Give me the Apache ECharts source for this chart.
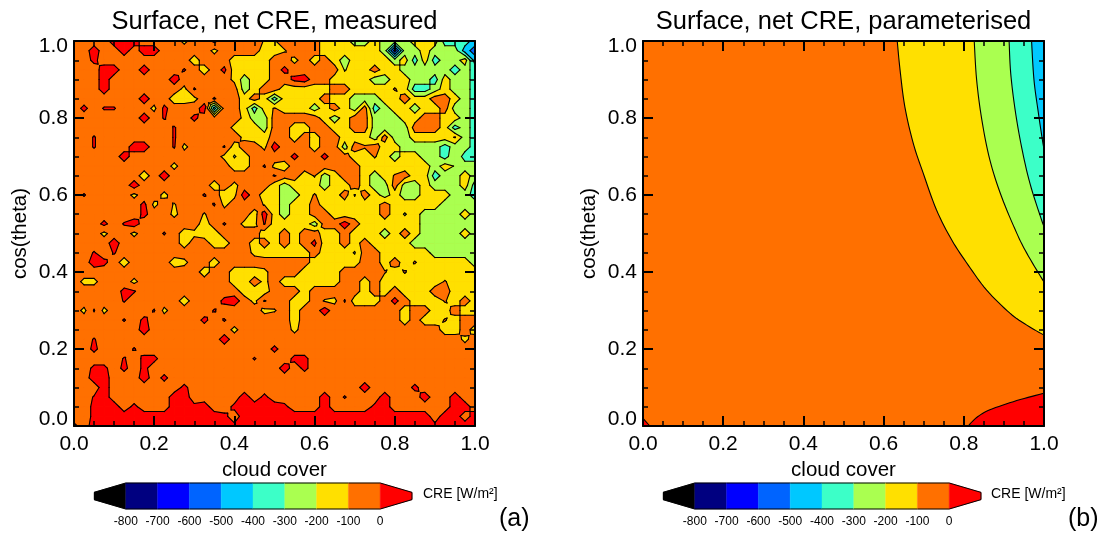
<!DOCTYPE html>
<html><head><meta charset="utf-8">
<style>html,body{margin:0;padding:0;background:#fff}#c{width:1100px;height:534px}</style>
<script src="https://cdn.jsdelivr.net/npm/echarts@6/dist/echarts.min.js"></script>
</head><body><div id="c"></div>
<script>
// Measured panel: CRE at 41x41 nodes, one letter per node (top row = cos 1.0)
const measuredCodes = {o:-50,r:50,S:25,s:8,y:-150,U:-125,u:-108,a:-92,g:-250,h:-208,t:-350,c:-450,b:-550,n:-650,k:-750};
const measuredRows = [
"oooorrrooooUooSoooou"+"uooooyyyggygggyyytttc",
"ooroororro"+"ooooUooooy"+"yuoooyyyyyygnggygggcb",
"ooSooooooooo"+"y"+"ooo"+"yyyy"+"ooUoyoygyyyygytytggyc",
"ooorroorooosoyoSyyyy"+"oSooooohyyoyygggggtgt",
"ooorooooooroooooUgyy"+"ooSrooyyyyggyyggtyggt",
"oooroooooooUsoooogyo"+"oyyyyyooyyyyayttgyggt",
"ooooooo"+"r"+"oo"+"yy"+"U"+"o"+"s"+"oo"+"y"+"o"+"y"+"tyyyyoyygggyyoyyooygt",
"oSossoooUSooorcooyty"+"ayyygyoygotgyygyyoggt",
"ooooooor"+"o"+"s"+"oo"+"S"+"oooo"+"Ugg"+"oooooygyoogggyyooyygt",
"oooooooooo"+"s"+"ooooo"+"Uyyg"+"ooyyooyyooggggoooytgt",
"oos"+"ooooooo"+"s"+"oooooo"+"Uyy"+"ooyoyooyyygoggyyyyagt",
"oos"+"ooo"+"rr"+"oo"+"sU"+"ooo"+"sy"+"oo"+"U"+"roooyoogoaoyyggggtggt",
"ooooo"+"r"+"ooooooooo"+"Uhy"+"oo"+"ooSooSooyyaygyyggthtt",
"oooooooooo"+"U"+"ooooo"+"yy"+"os"+"Uyoooooooyyyyyyygyhgg",
"ooooooo"+"yor"+"oooooooooo"+"sooyagyooygyaoyytggyg",
"oooooo"+"r"+"ooooooo"+"yoU"+"ooo"+"ygyyygyyoyggoggygggyt",
"os"+"oooo"+"U"+"oo"+"U"+"ooo"+"s"+"o"+"y"+"U"+"r"+"o"+"y"+"yggyayyohoygyggyyyggt",
"ooooooo"+"SU"+"o"+"u"+"ooo"+"sU"+"ooo"+"u"+"ygyyoyyyyyyoyyyyygggg",
"ooooooo"+"S"+"oo"+"U"+"oo"+"u"+"oooo"+"yr"+"ygyyooyyyyyoyhyggggyg",
"ooo"+"S"+"o"+"sr"+"oooooo"+"y"+"o"+"s"+"o"+"UUs"+"yyyygooroyyyyyygggggg",
"ooo"+"U"+"oo"+"U"+"oo"+"s"+"o"+"yUyy"+"oooo"+"y"+"yoyooyyoyyygyoyggggyg",
"oooo"+"r"+"ooooo"+"o"+"y"+"oo"+"yy"+"oo"+"y"+"o"+"yoyoSyyoyoyyyyggggggg",
"oo"+"s"+"o"+"s"+"ooooooooooooo"+"Uy"+"yyyyoyyyhooyyyyyggggg",
"oo"+"rS"+"o"+"y"+"oooo"+"yU"+"oo"+"y"+"ooooo"+"ooooyyyyyooyoyayyyyyg",
"ooooooooooooo"+"y"+"oo"+"yyy"+"U"+"oooyyyyooooayayyyyyyy",
"o"+"UU"+"ooo"+"U"+"ooooooooo"+"yyoU"+"oyyyyyyooyoyyyyyyayyy",
"ooooo"+"Ss"+"oooooooooo"+"yyy"+"oooyoooooyoyoyyyooyyy",
"ooooo"+"s"+"ooooo"+"y"+"ooo"+"Sr"+"o"+"Us"+"ooyyouUsyyyoSoyyyayoy",
"oUsU"+"oooo"+"sU"+"oooo"+"s"+"oooo"+"U"+"uoyooroooooooyooyyoyy",
"ooooo"+"s"+"o"+"S"+"ooooo"+"S"+"o"+"s"+"oooo"+"ooy"+"oooooooooo"+"yoyyayoo",
"ooooooo"+"r"+"oooooooo"+"U"+"ooo"+"ooU"+"oooooooooooooo"+"yyoy",
"oos"+"oooooooooooo"+"r"+"oooo"+"ooooooooooooooooooo"+"Uo",
"ooS"+"ooo"+"s"+"ooooooooooooo"+"S"+"oooooooooooooooooooo",
"ooooo"+"s"+"o"+"SS"+"ooooooooo"+"so"+"ooSS"+"ooooooooooooooooo",
"oo"+"SS"+"o"+"S"+"o"+"S"+"oooooooooooo"+"oroS"+"ooooooooooooooooo",
"oo"+"rr"+"ooo"+"r"+"o"+"S"+"oooooooooo"+"ooooooooooooooooooooo",
"ooo"+"r"+"ooooooo"+"S"+"oooooooo"+"ooooooooo"+"r"+"oooo"+"S"+"oooooo",
"oo"+"sr"+"oooooo"+"rr"+"ooooo"+"roS"+"ooooo"+"rosooo"+"r"+"ooo"+"r"+"oo"+"r"+"oo",
"oo"+"Srr"+"o"+"S"+"ooo"+"rr"+"Sr"+"oo"+"S"+"rrr"+"rSooorooooSroooooorro",
"oo"+"Srrrrrrrrrrrr"+"So"+"rrr"+"rrrrrrrrrrrrrrrr"+"orr"+"or",
"So"+"rrrrrrrrrrrrrr"+"S"+"rrr"+"rrrrrrrrrrrrrrrr"+"Srr"+"rr"
];
// Parameterised panel: contour lines as [cloud cover, cos(theta)]
const isoMinus100 = [[.634,1],[.641,.925],[.653,.829],[.674,.734],[.699,.656],[.732,.561],[.770,.483],[.811,.418],[.857,.353],[.915,.293],[.957,.262],[1,.236]];
const isoMinus200 = [[.826,1],[.832,.899],[.845,.795],[.865,.691],[.894,.596],[.932,.501],[.957,.449],[.994,.384],[1,.375]];
const isoMinus300 = [[.913,1],[.917,.916],[.928,.821],[.944,.725],[.965,.630],[.994,.535],[1,.52]];
const isoMinus400 = [[.969,1],[.975,.899],[.986,.813],[.996,.743],[1,.72]];
const isoZeroRight = [[.811,0],[.832,.022],[.865,.042],[.932,.066],[1,.085]];
const isoZeroLeft = [[0,.02],[.017,0]];
const tickLabelsColorbar = [-800,-700,-600,-500,-400,-300,-200,-100,0];
const bandEdges = [-900,-800,-700,-600,-500,-400,-300,-200,-100,0,100];
const bandColors = ['#000000','#000080','#0000FF','#0064FF','#00C8FF','#3CFFC8','#AAFF50','#FFE000','#FF7000','#FF0000'];

const FONT='"Liberation Sans", Arial, Helvetica, sans-serif';
const N=measuredRows.length-1;
measuredRows.forEach((r,i)=>{if(r.length!==41)throw new Error('row '+i+' length '+r.length);});
const vals=measuredRows.map(r=>r.split('').map(ch=>measuredCodes[ch]));
const cells=[];for(let j=0;j<N;j++)for(let i=0;i<N;i++)cells.push([i/N,1-j/N,i,j]);
const THRESHOLDS=[-800,-700,-600,-500,-400,-300,-200,-100,0];

function clip(poly,t,above){
  const out=[];
  for(let k=0;k<poly.length;k++){
    const a=poly[k],b=poly[(k+1)%poly.length];
    const ia=above?a[2]>=t:a[2]<=t, ib=above?b[2]>=t:b[2]<=t;
    if(ia)out.push(a);
    if(ia!==ib){const f=(t-a[2])/(b[2]-a[2]);out.push([a[0]+(b[0]-a[0])*f,a[1]+(b[1]-a[1])*f,t]);}
  }
  return out;
}
// one quad, or four triangles round the centre when a contour crosses the cell as a saddle
function pieces(i,j){
  const q=[[i/N,1-j/N,vals[j][i]],[(i+1)/N,1-j/N,vals[j][i+1]],[(i+1)/N,1-(j+1)/N,vals[j+1][i+1]],[i/N,1-(j+1)/N,vals[j+1][i]]];
  const saddle=THRESHOLDS.some(t=>{
    const s=q.map(p=>p[2]<t);return s[0]===s[2]&&s[1]===s[3]&&s[0]!==s[1];});
  if(!saddle)return [q];
  const c=[(q[0][0]+q[1][0])/2,(q[0][1]+q[3][1])/2,(q[0][2]+q[1][2]+q[2][2]+q[3][2])/4];
  return [0,1,2,3].map(k=>[q[k],q[(k+1)%4],c]);
}
function renderFill(params,api){
  const children=[];
  pieces(api.value(2),api.value(3)).forEach(q=>{
    const vs=q.map(p=>p[2]);const mn=Math.min(...vs),mx=Math.max(...vs);
    for(let b=0;b<bandColors.length;b++){
      const lo=b===0?-1e6:bandEdges[b], hi=b===bandColors.length-1?1e6:bandEdges[b+1];
      if(mx<lo||mn>hi)continue;
      const p=clip(clip(q,lo,true),hi,false);
      if(p.length<3)continue;
      children.push({type:'polygon',shape:{points:p.map(a=>api.coord([a[0],a[1]]))},
        style:{fill:bandColors[b],stroke:bandColors[b],lineWidth:.8}});
    }
  });
  return {type:'group',children};
}
function renderLines(params,api){
  const children=[];
  pieces(api.value(2),api.value(3)).forEach(q=>{
    THRESHOLDS.forEach(t=>{
      const pts=[];
      for(let k=0;k<q.length;k++){
        const a=q[k],b=q[(k+1)%q.length];
        if((a[2]<t)!==(b[2]<t)){const f=(t-a[2])/(b[2]-a[2]);pts.push([a[0]+(b[0]-a[0])*f,a[1]+(b[1]-a[1])*f]);}
      }
      if(pts.length===2)children.push({type:'polyline',shape:{points:pts.map(a=>api.coord(a))},
        style:{stroke:'#000',fill:null,lineWidth:1.1,lineCap:'round'}});
    });
  });
  return {type:'group',children};
}
// Catmull-Rom drawing of a read contour so that it renders as a smooth curve
function curve(line){
  if(line.length<3)return line;
  const out=[];
  for(let i=0;i<line.length-1;i++){
    const p0=line[Math.max(i-1,0)],p1=line[i],p2=line[i+1],p3=line[Math.min(i+2,line.length-1)];
    for(let s=0;s<8;s++){const t=s/8,t2=t*t,t3=t2*t;
      out.push([0,1].map(d=>.5*(2*p1[d]+(p2[d]-p0[d])*t+(2*p0[d]-5*p1[d]+4*p2[d]-p3[d])*t2+(3*p1[d]-p0[d]-3*p2[d]+p3[d])*t3)));}
  }
  out.push(line[line.length-1]);
  return out;
}
const fillOrder=[
  {line:[[0,0],[0,1],[1,1],[1,0]],color:bandColors[8],stroke:false,raw:true},
  {line:isoMinus100,close:[[1,1]],color:bandColors[7],stroke:true},
  {line:isoMinus200,close:[[1,1]],color:bandColors[6],stroke:true},
  {line:isoMinus300,close:[[1,1]],color:bandColors[5],stroke:true},
  {line:isoMinus400,close:[[1,1]],color:bandColors[4],stroke:true},
  {line:isoZeroRight,close:[[1,0]],color:bandColors[9],stroke:true},
  {line:isoZeroLeft,close:[[0,0]],color:bandColors[9],stroke:true}
];
function renderParam(params,api){
  const f=fillOrder[params.dataIndex];
  const line=f.raw?f.line:curve(f.line);
  const pts=line.concat(f.close||[]).map(a=>api.coord(a));
  const ch=[{type:'polygon',shape:{points:pts},style:{fill:f.color}}];
  if(f.stroke)ch.push({type:'polyline',shape:{points:line.map(a=>api.coord(a))},style:{stroke:'#000',fill:null,lineWidth:1.1}});
  return {type:'group',children:ch};
}
function renderBar(params,api){
  const b=params.dataIndex;
  const lo=bandEdges[b],hi=bandEdges[b+1];
  let pts;
  if(b===0)pts=[[lo,.64],[hi,1],[hi,0],[lo,.36]];
  else if(b===bandColors.length-1)pts=[[lo,1],[hi,.64],[hi,.36],[lo,0]];
  else pts=[[lo,1],[hi,1],[hi,0],[lo,0]];
  const px=pts.map(a=>api.coord(a));
  const ch=[{type:'polygon',shape:{points:px},style:{fill:bandColors[b],stroke:bandColors[b],lineWidth:.4}}];
  ch.push({type:'polyline',shape:{points:[px[0],px[1]]},style:{stroke:'#000',fill:null,lineWidth:1}});
  ch.push({type:'polyline',shape:{points:[px[2],px[3]]},style:{stroke:'#000',fill:null,lineWidth:1}});
  if(b===bandColors.length-1)ch.push({type:'polyline',shape:{points:[px[1],px[2]]},style:{stroke:'#000',fill:null,lineWidth:1}});
  return {type:'group',children:ch};
}
const PX=[74,643],PW=401,PT=41,PH=385,CB=[94,663],CBW=318,CBT=483,CBH=26;
const LBL=21;
const rich={low:{fontFamily:FONT,fontSize:LBL,color:'#000',padding:[0,0,14,0]},high:{fontFamily:FONT,fontSize:LBL,color:'#000',padding:[10,0,0,0]}};
function axisBase(horiz,pos,showLabel,name,gridIndex){
  const o={gridIndex,type:'value',min:0,max:1,interval:.2,position:pos,z:6,
    axisLine:{show:true,onZero:false,lineStyle:{color:'#000',width:2}},
    axisTick:{show:true,inside:true,length:10,lineStyle:{color:'#000',width:2}},
    minorTick:{show:true,splitNumber:4,length:5,lineStyle:{color:'#000',width:1.5}},
    splitLine:{show:false},minorSplitLine:{show:false},
    axisLabel:{show:showLabel,fontFamily:FONT,fontSize:LBL,color:'#000',margin:horiz?8:6,showMinLabel:true,showMaxLabel:true,
      formatter:horiz?(v=>v.toFixed(1)):(v=>v===0?'{low|0.0}':v===1?'{high|1.0}':v.toFixed(1)),rich:horiz?undefined:rich}};
  if(name){o.name=name;o.nameLocation='middle';o.nameGap=horiz?30:43;o.nameTextStyle={fontFamily:FONT,fontSize:20.5,color:'#000'};}
  return o;
}
const grid=[],xAxis=[],yAxis=[],series=[];
[0,1].forEach(p=>{
  grid.push({left:PX[p],top:PT,width:PW,height:PH,show:true,backgroundColor:bandColors[8],borderWidth:0});
  xAxis.push(axisBase(true,'bottom',true,'cloud cover',p));
  yAxis.push(axisBase(false,'left',true,'cos(theta)',p));
});
[0,1].forEach(p=>{
  xAxis.push(axisBase(true,'top',false,null,p));
  yAxis.push(axisBase(false,'right',false,null,p));
});
[0,1].forEach(p=>{
  grid.push({left:CB[p],top:CBT,width:CBW,height:CBH,show:false});
  xAxis.push({gridIndex:2+p,type:'value',min:-900,max:100,interval:100,position:'bottom',
    axisLine:{show:false},axisTick:{show:false},splitLine:{show:false},
    axisLabel:{show:true,fontFamily:FONT,fontSize:12,color:'#000',margin:7,showMinLabel:false,showMaxLabel:false,
      formatter:v=>tickLabelsColorbar.includes(v)?String(v):''}});
  yAxis.push({gridIndex:2+p,type:'value',min:0,max:1,show:false});
});
series.push({type:'custom',name:'measured fill',xAxisIndex:0,yAxisIndex:0,data:cells,renderItem:renderFill,silent:true,z:2,animation:false,encode:{x:0,y:1}});
series.push({type:'custom',name:'measured contours',xAxisIndex:0,yAxisIndex:0,data:cells,renderItem:renderLines,silent:true,z:3,animation:false,encode:{x:0,y:1}});
series.push({type:'custom',name:'parameterised',xAxisIndex:1,yAxisIndex:1,data:fillOrder.map(f=>f.line[0]),renderItem:renderParam,silent:true,z:2,animation:false,encode:{x:0,y:1}});
[0,1].forEach(p=>series.push({type:'custom',name:'colorbar',xAxisIndex:4+p,yAxisIndex:4+p,
  data:bandColors.map((c,i)=>[bandEdges[i],.5]),renderItem:renderBar,silent:true,z:2,animation:false,encode:{x:0,y:1}}));

const txt=(text,left,top,size,align)=>({text,left,top,textAlign:align||'center',padding:0,
  textStyle:{fontFamily:FONT,fontSize:size,fontWeight:'normal',color:'#000'}});
const title=[
  txt('Surface, net CRE, measured',274.5,9,25.5),
  txt('Surface, net CRE, parameterised',843.5,9,25.5),
  txt('CRE [W/m²]',423,487,14,'left'),
  txt('CRE [W/m²]',991,487,14,'left'),
  txt('(a)',499,507,25,'left'),
  txt('(b)',1068,507,25,'left')
];
const chart=echarts.init(document.getElementById('c'),null,{renderer:'canvas',width:1100,height:534});
chart.setOption({animation:false,backgroundColor:'#fff',title,grid,xAxis,yAxis,series});
</script>
</body></html>
